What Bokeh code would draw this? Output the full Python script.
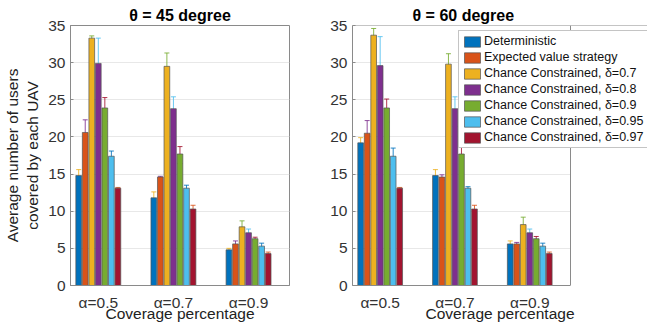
import numpy as np
from bokeh.plotting import figure
from bokeh.layouts import row
from bokeh.models import (ColumnDataSource, Whisker, TeeHead, Range1d, FixedTicker,
                          Legend, LegendItem, Span, BoxAnnotation)
from bokeh.embed import file_html
from bokeh.resources import INLINE

# ---------------- data ----------------
groups = ["α=0.5", "α=0.7", "α=0.9"]
series = ["Deterministic", "Expected value strategy",
          "Chance Constrained, δ=0.7", "Chance Constrained, δ=0.8",
          "Chance Constrained, δ=0.9", "Chance Constrained, δ=0.95",
          "Chance Constrained, δ=0.97"]
colors = ["#0072BD", "#D95319", "#EDB120", "#7E2F8E", "#77AC30", "#4DBEEE", "#A2142F"]

# theta = 45 degree
det45 = [14.8, 11.8, 4.8]
ev45 = [20.6, 14.6, 5.6]
cc07_45 = [33.3, 29.5, 7.9]
cc08_45 = [29.9, 23.8, 7.1]
cc09_45 = [23.9, 17.7, 6.3]
cc095_45 = [17.4, 13.1, 5.3]
cc097_45 = [13.1, 10.3, 4.3]
lo45 = [[14.2, 11.2, 4.7], [18.4, 14.4, 5.4], [33.1, 25.3, 7.2], [28.7, 21.4, 6.6],
        [22.1, 16.4, 6.0], [16.7, 12.8, 5.0], [13.0, 10.0, 4.1]]
hi45 = [[15.6, 12.6, 5.0], [22.3, 14.7, 6.0], [33.6, 31.3, 8.7], [33.3, 25.4, 7.6],
        [25.3, 18.7, 6.5], [18.1, 13.5, 5.7], [13.2, 10.8, 4.5]]

# theta = 60 degree
det60 = [19.2, 14.8, 5.6]
ev60 = [20.5, 14.6, 5.6]
cc07_60 = [33.7, 29.8, 8.2]
cc08_60 = [29.6, 23.8, 7.1]
cc09_60 = [23.9, 17.7, 6.3]
cc095_60 = [17.4, 13.1, 5.3]
cc097_60 = [13.1, 10.3, 4.3]
lo60 = [[18.3, 14.0, 5.2], [18.2, 14.2, 5.4], [32.8, 25.3, 7.0], [28.3, 21.4, 6.5],
        [22.0, 16.3, 6.0], [16.3, 12.9, 4.9], [13.0, 10.0, 4.1]]
hi60 = [[19.9, 15.6, 6.0], [22.2, 14.9, 5.8], [34.6, 31.2, 9.2], [33.5, 25.4, 7.6],
        [25.1, 18.7, 6.6], [18.5, 13.3, 5.7], [13.2, 10.8, 4.5]]

vals45 = [det45, ev45, cc07_45, cc08_45, cc09_45, cc095_45, cc097_45]
vals60 = [det60, ev60, cc07_60, cc08_60, cc09_60, cc095_60, cc097_60]

FONT = "Liberation Sans"
TXT = "#333333"
EDGE = "#8a8a8a"
PITCH = 0.087
BW = 0.076
X0, X1 = 0.63, 3.545   # axis limits
Y0, Y1 = 0, 35


def make(title, vals, lo, hi, w, bl, br, x_end):
    p = figure(width=w, height=326, output_backend="svg", toolbar_location=None,
               min_border_left=bl, min_border_right=br, min_border_top=25,
               min_border_bottom=41,
               x_range=Range1d(X0, x_end), y_range=Range1d(Y0, Y1))
    p.title.text = title
    p.title.text_font = FONT
    p.title.text_font_size = "16px"
    p.title.text_font_style = "bold"
    p.title.text_color = "#000000"
    p.title.standoff = 4
    gx = np.arange(1, len(groups) + 1)
    renderers = []
    for i, name in enumerate(series):
        x = gx + (i - 3) * PITCH
        src = ColumnDataSource(dict(x=x, top=vals[i], lo=lo[i], hi=hi[i]))
        r = p.vbar(x="x", top="top", width=BW, source=src, fill_color=colors[i],
                   line_color="#555555", line_width=0.7)
        renderers.append(r)
        ec = colors[(i + 2) % 7]
        wk = Whisker(base="x", lower="lo", upper="hi", source=src, line_color=ec,
                     line_width=1, line_alpha=0.85,
                     upper_head=TeeHead(size=5, line_color=ec, line_alpha=0.85),
                     lower_head=TeeHead(size=5, line_color=ec, line_alpha=0.85))
        p.add_layout(wk)
    p.xaxis.ticker = FixedTicker(ticks=[1, 2, 3])
    p.xaxis.major_label_overrides = {1: groups[0], 2: groups[1], 3: groups[2]}
    p.yaxis.ticker = FixedTicker(ticks=[0, 5, 10, 15, 20, 25, 30, 35])
    for ax in (p.xaxis, p.yaxis):
        ax.major_label_text_font = FONT
        ax.major_label_text_font_size = "15.5px"
        ax.major_label_text_color = TXT
        ax.axis_label_text_font = FONT
        ax.axis_label_text_font_size = "15.5px"
        ax.axis_label_text_font_style = "normal"
        ax.axis_label_text_color = "#222222"
        ax.axis_line_color = EDGE
        ax.major_tick_in = 3
        ax.major_tick_out = 0
        ax.minor_tick_line_color = None
        ax.major_tick_line_color = EDGE
    p.xaxis.major_tick_line_color = None
    p.xaxis.major_label_standoff = 8
    p.xaxis.axis_label = "Coverage percentage"
    p.xaxis.axis_label_standoff = -9
    p.yaxis.major_label_standoff = 5
    p.outline_line_color = EDGE
    p.xgrid.grid_line_color = None
    p.ygrid.grid_line_color = "#e8e8e8"
    return p, renderers


# left panel
p1, _ = make("θ = 45 degree", vals45, lo45, hi45, 320, 66, 31, X1)
p1.title.align = "center"
p1.yaxis.axis_label = "Average number of users\ncovered by each UAV"
p1.yaxis.axis_label_standoff = 4

# right panel: frame runs to the page edge so the legend is not clipped;
# the axes box itself ends at X1.
W2, BL2 = 327, 32
box_px = 218
frame_px = W2 - BL2
x_end2 = X0 + (X1 - X0) * frame_px / box_px
p2, rends = make("θ = 60 degree", vals60, lo60, hi60, W2, BL2, 0, x_end2)
p2.title.align = "left"
p2.title.offset = 60
p2.outline_line_color = None
p2.xaxis.bounds = (X0, X1)
try:
    p2.ygrid.cross_bounds = (X0, X1)
except Exception:
    p2.add_layout(BoxAnnotation(left=X1, fill_color="white", fill_alpha=1.0,
                                line_color=None, level="underlay"))
p2.add_layout(Span(location=X1, dimension="height", line_color=EDGE, line_width=1))
p2.add_layout(Span(location=Y1, dimension="width", line_color=EDGE, line_width=1))

items = [LegendItem(label=s, renderers=[r]) for s, r in zip(series, rends)]
lg = Legend(items=items, location=(106, 137), label_text_font=FONT,
            label_text_font_size="12.5px", label_text_color="#111111",
            glyph_width=20, glyph_height=13, label_height=13, label_width=172,
            label_standoff=2, spacing=2, padding=3, margin=0,
            border_line_color=EDGE, background_fill_alpha=1.0)
p2.add_layout(lg)

layout = row(p1, p2)
open("out.html", "w").write(file_html(layout, INLINE))
